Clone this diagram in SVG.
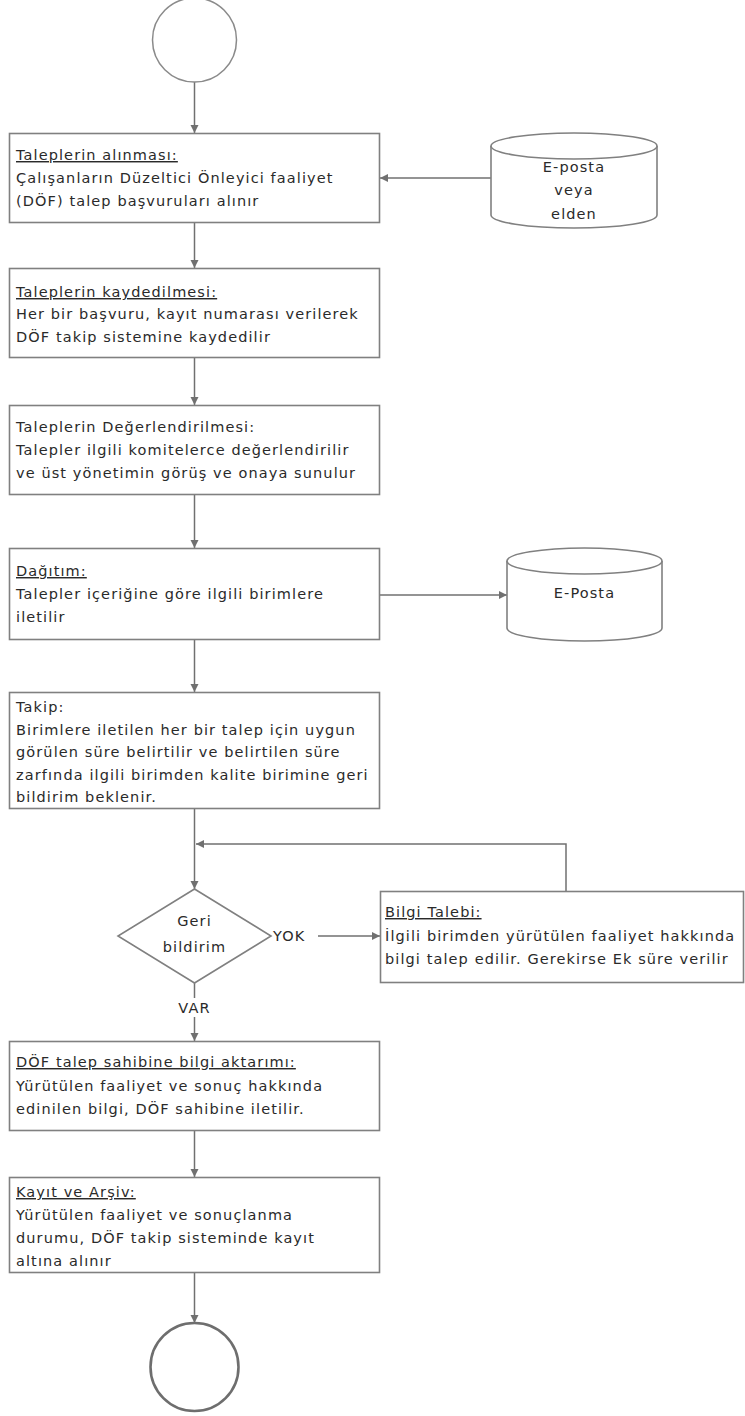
<svg xmlns="http://www.w3.org/2000/svg" width="745" height="1416" viewBox="0 0 745 1416">
<style>
.bg{fill:#ffffff}
.box{fill:#ffffff;stroke:#808080;stroke-width:1.6}
.term{fill:#ffffff;stroke:#8a8a8a;stroke-width:1.5}
.term2{fill:#ffffff;stroke:#6e6e6e;stroke-width:2.6}
.conn{fill:none;stroke:#707070;stroke-width:1.5}
.t{font-family:"DejaVu Sans",Verdana,sans-serif;font-size:14.5px;fill:#2a2a2a;letter-spacing:1.1px}
.c{text-anchor:middle}
.u{text-decoration:underline}
</style>
<defs>
<marker id="ah" markerWidth="10" markerHeight="10" refX="9" refY="5" orient="auto" markerUnits="userSpaceOnUse">
<path d="M1,1 L9,5 L1,9 Z" fill="#707070"/>
</marker>
</defs>
<rect class="bg" x="0" y="0" width="745" height="1416"/>

<g id="connectors">
<line class="conn" x1="194.5" y1="82" x2="194.5" y2="133" marker-end="url(#ah)"/>
<line class="conn" x1="491" y1="178" x2="380" y2="178" marker-end="url(#ah)"/>
<line class="conn" x1="194.5" y1="222" x2="194.5" y2="268" marker-end="url(#ah)"/>
<line class="conn" x1="194.5" y1="358" x2="194.5" y2="405" marker-end="url(#ah)"/>
<line class="conn" x1="194.5" y1="494" x2="194.5" y2="548" marker-end="url(#ah)"/>
<line class="conn" x1="380" y1="595" x2="507" y2="595" marker-end="url(#ah)"/>
<line class="conn" x1="194.5" y1="640" x2="194.5" y2="692" marker-end="url(#ah)"/>
<line class="conn" x1="194.5" y1="809" x2="194.5" y2="889" marker-end="url(#ah)"/>
<polyline class="conn" points="566,891 566,844 196,844" marker-end="url(#ah)"/>
<line class="conn" x1="318" y1="936" x2="380" y2="936" marker-end="url(#ah)"/>
<line class="conn" x1="194.5" y1="983" x2="194.5" y2="998"/>
<line class="conn" x1="194.5" y1="1017" x2="194.5" y2="1041" marker-end="url(#ah)"/>
<line class="conn" x1="194.5" y1="1131" x2="194.5" y2="1177" marker-end="url(#ah)"/>
<line class="conn" x1="194.5" y1="1273" x2="194.5" y2="1323" marker-end="url(#ah)"/>
<text class="t" x="273" y="941">YOK</text>
<text class="t c" x="194.5" y="1013">VAR</text>
</g>

<g id="start">
<circle class="term" cx="194.5" cy="40" r="42"/>
</g>

<g id="n1">
<rect class="box" x="9.5" y="133.5" width="370" height="89"/>
<text class="t" x="16" y="160"><tspan class="u">Taleplerin alınması:</tspan><tspan x="16" y="183">Çalışanların Düzeltici Önleyici faaliyet</tspan><tspan x="16" y="206">(DÖF) talep başvuruları alınır</tspan></text>
</g>

<g id="src1">
<path class="box" d="M491,146 L491,215 A83,13 0 0 0 657,215 L657,146"/>
<ellipse class="box" cx="574" cy="146" rx="83" ry="13"/>
<text class="t c" x="574" y="172">E-posta<tspan x="574" y="195">veya</tspan><tspan x="574" y="219">elden</tspan></text>
</g>

<g id="n2">
<rect class="box" x="9.5" y="268.5" width="370" height="89"/>
<text class="t" x="16" y="297"><tspan class="u">Taleplerin kaydedilmesi:</tspan><tspan x="16" y="319">Her bir başvuru, kayıt numarası verilerek</tspan><tspan x="16" y="342">DÖF takip sistemine kaydedilir</tspan></text>
</g>

<g id="n3">
<rect class="box" x="9.5" y="405.5" width="370" height="89"/>
<text class="t" x="16" y="432">Taleplerin Değerlendirilmesi:<tspan x="16" y="455">Talepler ilgili komitelerce değerlendirilir</tspan><tspan x="16" y="478">ve üst yönetimin görüş ve onaya sunulur</tspan></text>
</g>

<g id="n4">
<rect class="box" x="9.5" y="548.5" width="370" height="91"/>
<text class="t" x="16" y="576"><tspan class="u">Dağıtım:</tspan><tspan x="16" y="599">Talepler içeriğine göre ilgili birimlere</tspan><tspan x="16" y="622">iletilir</tspan></text>
</g>

<g id="src2">
<path class="box" d="M507,561 L507,628 A77.5,13 0 0 0 662,628 L662,561"/>
<ellipse class="box" cx="584.5" cy="561" rx="77.5" ry="13"/>
<text class="t c" x="584.5" y="598">E-Posta</text>
</g>

<g id="n5">
<rect class="box" x="9.5" y="692.5" width="370" height="116"/>
<text class="t" x="16" y="712">Takip:<tspan x="16" y="735">Birimlere iletilen her bir talep için uygun</tspan><tspan x="16" y="757">görülen süre belirtilir ve belirtilen süre</tspan><tspan x="16" y="780">zarfında ilgili birimden kalite birimine geri</tspan><tspan x="16" y="802">bildirim beklenir.</tspan></text>
</g>

<g id="decision">
<polygon class="box" points="194.5,889 271,936 194.5,983 118,936"/>
<text class="t c" x="194.5" y="926">Geri<tspan x="194.5" y="952">bildirim</tspan></text>
</g>

<g id="n6">
<rect class="box" x="380.5" y="891.5" width="363" height="91"/>
<text class="t" x="385" y="917"><tspan class="u">Bilgi Talebi:</tspan><tspan x="385" y="941">İlgili birimden yürütülen faaliyet hakkında</tspan><tspan x="385" y="964">bilgi talep edilir. Gerekirse Ek süre verilir</tspan></text>
</g>

<g id="n7">
<rect class="box" x="9.5" y="1041.5" width="370" height="89"/>
<text class="t" x="16" y="1067"><tspan class="u">DÖF talep sahibine bilgi aktarımı:</tspan><tspan x="16" y="1091">Yürütülen faaliyet ve sonuç hakkında</tspan><tspan x="16" y="1114">edinilen bilgi, DÖF sahibine iletilir.</tspan></text>
</g>

<g id="n8">
<rect class="box" x="9.5" y="1177.5" width="370" height="95"/>
<text class="t" x="16" y="1197"><tspan class="u">Kayıt ve Arşiv:</tspan><tspan x="16" y="1220">Yürütülen faaliyet ve sonuçlanma</tspan><tspan x="16" y="1243">durumu, DÖF takip sisteminde kayıt</tspan><tspan x="16" y="1266">altına alınır</tspan></text>
</g>

<g id="end">
<circle class="term2" cx="194.5" cy="1367" r="44"/>
</g>
</svg>
